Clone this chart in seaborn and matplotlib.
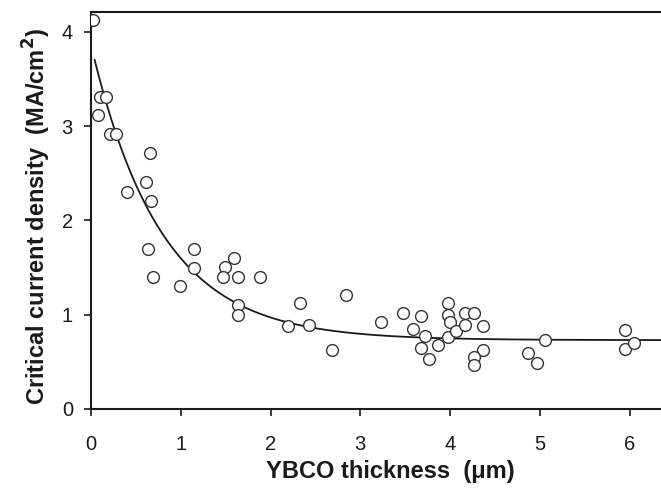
import numpy as np
import pandas as pd
import matplotlib
matplotlib.use("Agg")
import matplotlib.pyplot as plt
import seaborn as sns

thickness_um = [0.02, 0.08, 0.10, 0.17, 0.21, 0.28, 0.40, 0.61, 0.66, 0.67,
                0.64, 0.69, 0.99, 1.15, 1.15, 1.49, 1.47, 1.59, 1.64, 1.88,
                1.64, 1.64, 2.19, 2.43, 2.33, 2.69, 2.84, 3.23, 3.48, 3.68,
                3.59, 3.72, 3.68, 3.77, 3.87, 3.98, 3.98, 4.00, 3.98, 4.07,
                4.17, 4.27, 4.17, 4.37, 4.37, 4.27, 4.27, 4.87, 4.97, 5.06,
                5.95, 5.95, 6.05]
jc_MA_cm2 = [4.13, 3.12, 3.31, 3.31, 2.92, 2.92, 2.30, 2.41, 2.72, 2.21,
             1.70, 1.40, 1.30, 1.70, 1.50, 1.51, 1.40, 1.60, 1.40, 1.40,
             1.10, 1.00, 0.88, 0.89, 1.12, 0.63, 1.21, 0.92, 1.02, 0.99,
             0.85, 0.77, 0.65, 0.53, 0.68, 1.12, 1.00, 0.92, 0.76, 0.83,
             1.02, 1.02, 0.89, 0.88, 0.63, 0.55, 0.47, 0.59, 0.49, 0.73,
             0.84, 0.64, 0.70]

# Exponential-decay fit drawn in the figure: Jc = j_inf + amp * exp(-t / decay)
fit_j_inf = 0.73
fit_amp = 3.13
fit_decay = 0.78
fit_start, fit_end = 0.04, 6.4

x_ticks = [0, 1, 2, 3, 4, 5, 6]
y_ticks = [0, 1, 2, 3, 4]

pts = pd.DataFrame({"t": thickness_um, "jc": jc_MA_cm2})
tt = np.linspace(fit_start, fit_end, 300)
fit = pd.DataFrame({"t": tt, "jc": fit_j_inf + fit_amp * np.exp(-tt / fit_decay)})

sns.set_theme(style="ticks")
plt.rcParams["font.family"] = ["Liberation Sans", "DejaVu Sans"]

fig = plt.figure(figsize=(6.61, 5.0), dpi=100)
ax = fig.add_axes([91 / 661, 1 - 409 / 500, 1 - 91 / 661, (409 - 12) / 500])

sns.lineplot(data=fit, x="t", y="jc", ax=ax, color="#1a1a1a", linewidth=1.3)
sns.scatterplot(data=pts, x="t", y="jc", ax=ax, s=72, facecolor="white",
                edgecolor="#333333", linewidth=1.0, zorder=3)

ax.set_xlim(0, 6.35)
ax.set_ylim(0, 4.21)
ax.set_xticks(x_ticks)
ax.set_yticks(y_ticks)
ax.tick_params(direction="out", length=5, width=1.2, labelsize=14.5, colors="#1a1a1a")
ax.tick_params(axis="x", pad=14)
ax.tick_params(axis="y", pad=8)
for s in ["left", "bottom", "top"]:
    ax.spines[s].set_linewidth(1.5)
    ax.spines[s].set_color("#1a1a1a")
ax.spines["right"].set_visible(False)
ax.set_xlabel("YBCO thickness  (\u03bcm)", fontsize=17, fontweight="bold",
              labelpad=4, color="#1a1a1a", x=0.525)
ax.set_ylabel("Critical current density  (MA/cm$^\\mathbf{2}$)", fontsize=17,
              fontweight="bold", labelpad=6, color="#1a1a1a", y=0.486)

fig.savefig("out.png", dpi=100)
